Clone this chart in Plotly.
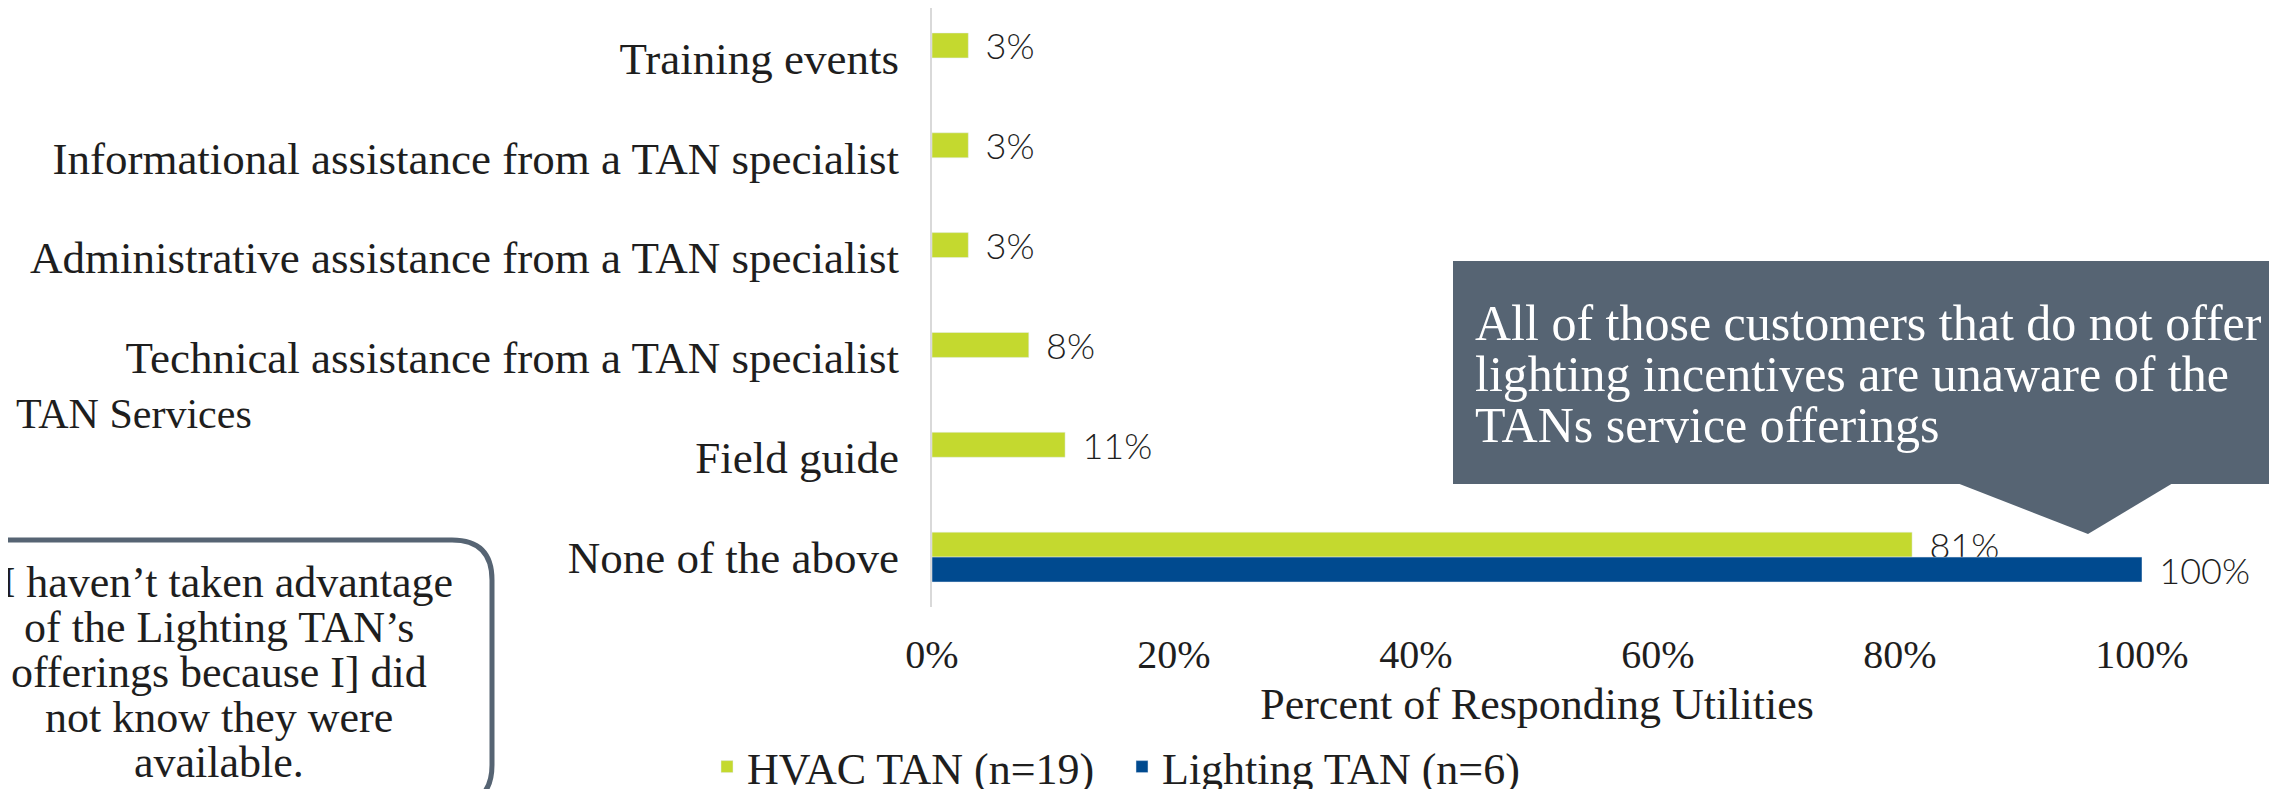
import plotly.graph_objects as go

# data
categories = [
    "Training events",
    "Informational assistance from a TAN specialist",
    "Administrative assistance from a TAN specialist",
    "Technical assistance from a TAN specialist",
    "Field guide",
    "None of the above",
]
hvac_values = [0.03, 0.03, 0.03, 0.08, 0.11, 0.81]
lighting_categories = ["None of the above"]
lighting_values = [1.00]
x_ticks = [0, 0.2, 0.4, 0.6, 0.8, 1.0]

quote_lines = [
    "[I haven’t taken advantage",
    "of the Lighting TAN’s",
    "offerings because I] did",
    "not know they were",
    "available.",
]
callout_lines = [
    "All of those customers that do not offer",
    "lighting incentives are unaware of the",
    "TANs service offerings",
]

# the page body has an 8px margin, so the figure is drawn 8px in from the corner
OFF = 8
W, H = 2277 - OFF, 789 - OFF
L, R, T, B = 932 - OFF, 135, 0, 182
GREEN = "#C4D92F"
BLUE = "#004A8F"
SLATE = "#566473"
TEXT = "#1E1E1E"
SERIF = "Liberation Serif"


def px(x):
    # page pixel -> paper x
    return (x - OFF - L) / (W - L - R)


def py(y):
    # page pixel (from top) -> paper y
    return (H - B - (y - OFF)) / (H - T - B)


label_font = dict(family="Lato", size=36, color=TEXT, weight=300)

fig = go.Figure()
fig.add_trace(go.Bar(
    y=categories, x=hvac_values, orientation="h", name="HVAC TAN (n=19)",
    marker=dict(color=GREEN), texttemplate="\u00a0\u2009%{x:.0%}",
    textposition="outside", cliponaxis=False, constraintext="none",
    textfont=label_font,
))
fig.add_trace(go.Bar(
    y=lighting_categories, x=lighting_values, orientation="h", name="Lighting TAN (n=6)",
    marker=dict(color=BLUE), texttemplate="\u00a0\u2009%{x:.0%}",
    textposition="outside", cliponaxis=False, constraintext="none",
    textfont=label_font,
))

shapes = []
# callout box + pointer
shapes.append(dict(type="rect", xref="paper", yref="paper",
                   x0=px(1453), x1=px(2300), y0=py(484), y1=py(261),
                   fillcolor=SLATE, line=dict(width=0), layer="above"))
shapes.append(dict(type="path", xref="paper", yref="paper",
                   path="M %f,%f L %f,%f L %f,%f Z" % (px(1957), py(483), px(2173), py(483), px(2088), py(534)),
                   fillcolor=SLATE, line=dict(width=0), layer="above"))
# rounded quote box, mostly off the left/bottom edge
shapes.append(dict(type="path", xref="paper", yref="paper",
                   path="M %f,%f H %f Q %f,%f %f,%f V %f Q %f,%f %f,%f H %f" % (
                       px(-30), py(540), px(452), px(492), py(540), px(492), py(580),
                       py(765), px(492), py(805), px(452), py(805), px(-30)),
                   line=dict(color=SLATE, width=5)))

annotations = [dict(text="TAN Services", xref="paper", yref="paper", x=px(14), y=py(414),
                    xanchor="left", yanchor="middle", showarrow=False,
                    font=dict(family=SERIF, size=42, color=TEXT))]
for i, line in enumerate(quote_lines):
    annotations.append(dict(text=line, xref="paper", yref="paper", x=px(219), y=py(582 + i * 45),
                            xanchor="center", yanchor="middle", showarrow=False,
                            font=dict(family=SERIF, size=44, color=TEXT)))
for i, line in enumerate(callout_lines):
    annotations.append(dict(text=line, xref="paper", yref="paper", x=px(1473), y=py(323 + i * 51),
                            xanchor="left", yanchor="middle", showarrow=False,
                            font=dict(family=SERIF, size=50, color="white")))

fig.update_layout(
    width=W, height=H,
    margin=dict(l=L, r=R, t=T, b=B, autoexpand=False),
    paper_bgcolor="white", plot_bgcolor="white",
    barmode="group", bargap=0.5, bargroupgap=0,
    font=dict(family=SERIF, size=44, color=TEXT),
    xaxis=dict(range=[0, 1.0], tickvals=x_ticks, tickformat=".0%", showgrid=False,
               zeroline=False, showline=False, ticks="", ticklabelstandoff=20,
               tickfont=dict(family=SERIF, size=40, color=TEXT),
               title=dict(text="Percent of Responding Utilities", standoff=12,
                          font=dict(family=SERIF, size=44, color=TEXT))),
    yaxis=dict(autorange="reversed", categoryorder="array", categoryarray=categories,
               showgrid=False, zeroline=False, showline=True, linecolor="#D9D9D9", linewidth=2,
               ticks="", ticklabelstandoff=22,
               tickfont=dict(family=SERIF, size=45, color=TEXT)),
    legend=dict(orientation="h", xref="container", yref="container",
                x=(707 - OFF) / W, y=1 - (767 - OFF) / H, xanchor="left", yanchor="middle",
                entrywidth=370, entrywidthmode="pixels",
                font=dict(family=SERIF, size=44, color=TEXT)),
    shapes=shapes,
    annotations=annotations,
)

fig.write_html("out.html")
